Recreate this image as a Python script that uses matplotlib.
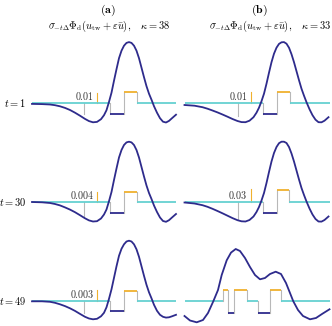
import matplotlib
matplotlib.use("Agg")
import matplotlib.pyplot as plt

plt.rcParams['mathtext.fontset'] = 'cm'
plt.rcParams['font.family'] = 'serif'

# ======================= DONNEES =======================
# abscisse commune (5 panneaux "une bosse")
XI = [0, 10, 18, 23, 28, 33, 38, 43, 48, 53, 57, 61, 65, 69, 72, 74.5, 77, 79.5,
      82, 84.5, 87, 89.5, 92, 94.5, 97, 99.5, 102, 104.5, 107, 109.5, 112, 114.5,
      117, 119.5, 122, 125, 128, 131, 134, 137, 140, 144]

A1_Y = [-1.2, -1.4, -1.8, -2.5, -3.6, -5.2, -7.3, -10.0, -13.0, -16.2, -18.4, -19.6,
        -19.2, -16.5, -12.5, -7.5, 0.8, 10, 22, 33.5, 44.5, 52, 57, 59.8, 60.6, 59.8,
        57, 52, 44.5, 35, 25.5, 16.5, 9, 3, -3.5, -10, -15.5, -19, -19.8, -18.2, -15.5, -12.0]
A2_Y = [0, -0.3, -1.0, -2.0, -3.4, -5.4, -7.6, -10.2, -13.2, -16.3, -18.4, -19.5,
        -19.2, -16.5, -12.5, -7.5, 0.8, 10, 22, 33.5, 44.5, 52, 57, 59.6, 60.3, 59.6,
        57, 52, 44.5, 35, 25.5, 16.5, 9, 3, -3.5, -10, -15.5, -19, -19.8, -18.2, -15.5, -12.0]
A3_Y = [0, 0, -0.5, -1.5, -3, -4.8, -7, -9.6, -12.6, -15.5, -17.2, -18, -17.5, -15,
        -11.5, -6, 2.5, 12, 23.5, 35, 45.5, 52.5, 57, 59.8, 60.6, 59.8, 57, 52, 44.5,
        35, 25.5, 16.5, 9, 3, -3.5, -9.5, -13.5, -15.5, -16.3, -16, -15, -13.5]
B1_Y = [-2.3, -3.0, -4.5, -6, -7.8, -9.7, -11.8, -14, -16.3, -18.3, -19.4, -19.5,
        -18, -14.5, -10, -5, 1.5, 9, 19, 30, 40.5, 49, 55, 58.8, 60.4, 60.6, 59, 55,
        48.5, 40.5, 31.5, 22.5, 14, 7, 0.5, -6.5, -12.5, -17, -19.5, -19.6, -18, -14.5]
B2_Y = [-0.5, -1.5, -3.2, -4.8, -6.8, -9.0, -11.3, -13.7, -16.1, -18.2, -19.3, -19.5,
        -18, -14.5, -10, -5, 1.5, 9, 19, 30, 40.5, 49, 55, 58.8, 60.3, 60.3, 59, 55,
        48.5, 40.5, 31.5, 22.5, 14, 7, 0.5, -6.5, -12.5, -17, -19.5, -19.6, -18, -14.5]

# panneau (b), t = 49 : deux bosses
B3_X = [0, 5.5, 12.2, 18.5, 23.5, 28.8, 33.5, 37.2, 42.2, 46.5, 51.2, 55.5, 60.5,
        65.5, 70.5, 75.5, 80.5, 85.5, 91.2, 96.5, 101.5, 105.5, 108.8, 113.5, 118.5,
        125.5, 131.5, 137.5, 145]
B3_Y = [-14.7, -19.2, -21, -18.7, -11.7, 0, 11.3, 26.3, 41, 48.7, 52.3, 50.3, 43.3,
        34.3, 26.3, 22, 23.3, 27.3, 29.6, 27.3, 18.3, 8.3, 0, -8.7, -14.7, -18, -16.7,
        -12.7, -8]

# fonction en escalier : bords, niveaux (-1/0/1), amplitudes bas/haut
A_EDGES = [0, 78, 91.5, 104.5, 144]
B_EDGES = [0, 78.8, 92.5, 105.5, 145]
B2_EDGES = [0, 78.8, 92, 104, 145]
B3_EDGES = [0, 38, 43, 49.5, 62.2, 73.8, 85.8, 96.5, 145]
ONE_LEVELS = [0, -1, 1, 0]
B3_LEVELS = [0, 1, -1, 1, 0, -1, 1, 0]
STEP_LO = [-11.3, -10.7, -9.7, -11.3, -10.7, -12]
STEP_HI = [10.4, 9.7, 10, 10.4, 12, 11]

# barres d'echelle
SCALE_LABELS = ["0.01", "0.004", "0.003", "0.01", "0.03", None]
SCALE_UP = [9.4, 10.3, 11, 10.4, 13, 0]
SCALE_DOWN = [-11.6, -15, -11.6, -13.3, -17, 0]

ROW_LABELS = ["1", "30", "49"]
KAPPA = ["38", "33"]

NAVY = "#2e2b8c"
CYAN = "#66d1d1"
GOLD = "#f0b12e"
GRAY = "#b8b8b8"

W, H = 332, 326
ROW_BASE = [102.7, 202, 301.3]
COL_LEFT = [32, 184.5]
COL_W = [144, 145]


def px_axes(fig, left, base, width):
    return fig.add_axes([left / W, 1 - (base + 24) / H, width / W, 88 / H])


def draw_steps(ax, edges, levels, lo, hi):
    val = [0 if l == 0 else (hi if l > 0 else lo) for l in levels]
    col = [CYAN if l == 0 else (GOLD if l > 0 else NAVY) for l in levels]
    for i in range(len(levels)):
        ax.plot([edges[i], edges[i + 1]], [val[i], val[i]], color=col[i], lw=1.3,
                solid_capstyle='butt', zorder=2)
    for i in range(1, len(levels)):
        ax.plot([edges[i], edges[i]], [val[i - 1], val[i]], color=GRAY, lw=0.8, zorder=1)


fig = plt.figure(figsize=(W / 100, H / 100), dpi=100)

curves = [(XI, A1_Y), (XI, A2_Y), (XI, A3_Y), (XI, B1_Y), (XI, B2_Y), (B3_X, B3_Y)]
edges = [A_EDGES, A_EDGES, A_EDGES, B_EDGES, B2_EDGES, B3_EDGES]
levels = [ONE_LEVELS] * 5 + [B3_LEVELS]
gold_x = [65, 66.3]
gray_x = [52.3, 53.5]

for k in range(6):
    col, row = k // 3, k % 3
    ax = px_axes(fig, COL_LEFT[col], ROW_BASE[row], COL_W[col])
    ax.set_xlim(0, COL_W[col])
    ax.set_ylim(-24, 64)
    ax.axis('off')
    draw_steps(ax, edges[k], levels[k], STEP_LO[k], STEP_HI[k])
    if SCALE_LABELS[k]:
        ax.plot([gold_x[col]] * 2, [0, SCALE_UP[k]], color=GOLD, lw=0.8, zorder=1)
        ax.plot([gray_x[col]] * 2, [0, SCALE_DOWN[k]], color=GRAY, lw=0.8, zorder=1)
        ax.text(gold_x[col] - 3, 0.8, "$" + SCALE_LABELS[k] + "$", ha='right',
                va='bottom', fontsize=7.2, color='#333333')
    x, y = curves[k]
    ax.plot(x, y, color=NAVY, lw=1.3, zorder=3, clip_on=False)

for row in range(3):
    fig.text(26 / W, 1 - ROW_BASE[row] / H, "$t = " + ROW_LABELS[row] + "$",
             ha='right', va='center', fontsize=7.5)

for col, (lab, cx, sx) in enumerate(zip(["(a)", "(b)"], [108, 259], [109, 270])):
    fig.text(cx / W, 1 - 10 / H, r"$\mathbf{" + lab + "}$", ha='center', va='center',
             fontsize=8.5)
    fig.text(sx / W, 1 - 26 / H,
             r"$\sigma_{-t\Delta}\Phi_{\mathrm{d}}(u_{\mathrm{tw}}+\varepsilon\bar{u}),\quad\kappa="
             + KAPPA[col] + "$", ha='center', va='center', fontsize=7.5)

fig.savefig("out.png", dpi=100)
